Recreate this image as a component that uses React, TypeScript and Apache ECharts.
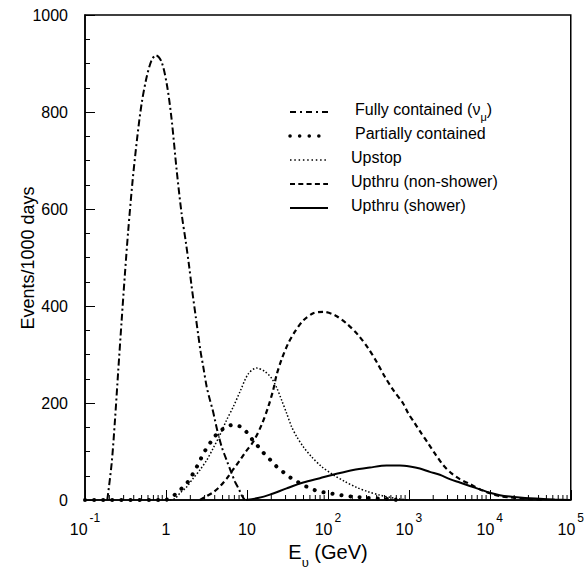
import React, { useEffect, useRef } from 'react';
import * as echarts from 'echarts';

// Fully contained (nu_mu)
const fcE = [0.1885, 0.2136, 0.2346, 0.2577, 0.2838, 0.3118, 0.3424, 0.3881, 0.4422, 0.5012, 0.5776, 0.666, 0.7523, 0.885, 1.037, 1.176, 1.356, 1.562, 1.766, 1.94, 2.076, 2.346, 2.505, 2.682, 2.887, 3.181, 3.493, 3.772, 4.027, 4.299, 4.872, 5.616, 6.474, 7.111, 8.034, 8.602, 9.448];
const fcV = [0, 76, 165, 268, 371, 468, 557, 660, 748, 818, 872, 907, 917, 903, 852, 784, 680, 590, 530, 480, 440, 375, 340, 305, 275, 234, 206, 186, 165, 144, 110, 82, 55, 38, 21, 10, 0];

// Partially contained
const pcE = [0.1, 0.972, 1.12, 1.356, 1.635, 1.94, 2.217, 2.505, 2.806, 3.181, 3.667, 4.299, 5.351, 6.773, 8.602, 10.38, 11.96, 14.19, 16.68, 20.18, 23.93, 29.45, 36.67, 46.03, 57.14, 72.53, 94.48, 122, 157.6, 201.8, 260.6, 330, 438.5, 550.5, 711.1];
const pcV = [0, 0, 4, 14, 27, 41, 58, 74, 91, 107, 122, 137, 149, 155, 150, 136, 122, 108, 94, 80, 67, 55, 43, 34, 26, 19, 15, 12, 9, 7, 5.5, 4, 3, 2, 0];

// Upstop
const upE = [1.12, 1.292, 1.489, 1.802, 2.173, 2.63, 3.181, 3.837, 4.642, 5.616, 6.773, 8.199, 10.38, 13.18, 16.68, 20.18, 23.26, 26.82, 30.92, 35.64, 41.09, 49.56, 62.92, 83.58, 116.3, 162.2, 226.1, 314.5, 438.5, 582.9, 774.3, 1029];
const upV = [0, 3, 14, 27, 45, 62, 82, 107, 134, 165, 192, 223, 260, 272, 265, 251, 232, 206, 179, 151, 131, 110, 89, 69, 52, 38, 26, 17, 10, 5.5, 2, 0];

// Upthru (non-shower)
const nsE = [2.63, 3.181, 3.837, 4.642, 5.616, 6.773, 8.199, 9.72, 11.96, 15.19, 18.32, 21.12, 23.26, 26.82, 32.36, 39.14, 49.56, 65.83, 87.5, 122, 170.2, 236.7, 314.5, 399.3, 505.6, 640, 850.5, 980.3, 1186, 1435, 1731, 2094, 2652, 3367, 4262, 5663, 7523, 10000, 13290, 17660, 23460, 31180, 47750];
const nsV = [0, 8, 16, 28, 44, 63, 82, 100, 120, 155, 192, 227, 258, 290, 323, 347, 370, 385, 388, 381, 364, 340, 313, 285, 254, 227, 199, 179, 158, 137, 117, 96, 72, 55, 43, 33, 22, 14, 8, 5.5, 3.5, 2, 0];

// Upthru (shower)
const shE = [9.72, 13.67, 19.23, 30.92, 49.56, 79.64, 128.1, 205.3, 330, 530.5, 774.3, 1029, 1367, 1816, 2413, 3208, 4262, 5663, 7523, 10000, 13290, 17660, 23460, 31180, 41430, 63480, 97200];
const shV = [0, 4, 11, 24, 36, 45, 54, 62, 67, 71, 71, 69, 65, 58, 52, 43, 36, 29, 22, 15, 10, 7, 5, 3.5, 2.6, 1, 0];

const yTicks = [0, 200, 400, 600, 800, 1000];
const xDecades = [0.1, 1, 10, 100, 1000, 10000];
const minorMultipliers = [2, 3, 4, 5, 6, 7, 8, 9];

const legendLabels = ['Fully contained (ν', 'Partially contained', 'Upstop', 'Upthru (non-shower)', 'Upthru (shower)'];

const FONT = '"Liberation Sans", Arial, Helvetica, sans-serif';

export default function App() {
  const ref = useRef<HTMLDivElement>(null);
  useEffect(() => {
    if (!ref.current) return;
    const chart = echarts.init(ref.current, null, { renderer: 'svg' });
    const pairs = (xs: number[], ys: number[]) => xs.map((x, i) => [x, ys[i]]);
    const minorTicks: number[] = [];
    xDecades.forEach((d) => minorMultipliers.forEach((m) => minorTicks.push(+(d * m).toPrecision(6))));

    const styles: any[] = [
      { width: 2, type: [7, 3, 2, 3] },
      { width: 4, type: [0.1, 9], cap: 'round' },
      { width: 1.5, type: [1.5, 2] },
      { width: 2.2, type: [5, 3.5] },
      { width: 2, type: 'solid' },
    ];
    const xs = [fcE, pcE, upE, nsE, shE];
    const ys = [fcV, pcV, upV, nsV, shV];

    const series: any[] = xs.map((xArr, i) => ({
      name: legendLabels[i],
      type: 'line',
      data: pairs(xArr, ys[i]),
      showSymbol: false,
      symbol: 'none',
      smooth: 0.3,
      lineStyle: { color: '#000', ...styles[i] },
      z: 3,
    }));
    series.push({
      type: 'custom',
      silent: true,
      clip: false,
      z: 5,
      data: minorTicks.map((v) => [v, 0]),
      renderItem: (_p: any, api: any) => {
        const p = api.coord([api.value(0), 0]);
        return {
          type: 'line',
          shape: { x1: p[0], y1: p[1], x2: p[0], y2: p[1] - 5 },
          style: { stroke: '#000', lineWidth: 1 },
        };
      },
    });

    const legendY = [112, 136, 160, 184, 208];
    const legendTextX = [355, 355, 351, 351, 351];
    const legendLineStyles = [
      { lineWidth: 2, lineDash: [6, 4, 2, 4] },
      { lineWidth: 3.5, lineDash: [0.1, 9.5], lineCap: 'round' },
      { lineWidth: 1.5, lineDash: [1.5, 2.8] },
      { lineWidth: 2, lineDash: [5, 3.3] },
      { lineWidth: 2 },
    ];
    const graphic: any[] = [];
    legendY.forEach((y, i) => {
      graphic.push({
        type: 'line',
        shape: { x1: 290, y1: y, x2: 328, y2: y },
        style: { stroke: '#000', fill: null, ...legendLineStyles[i] },
      });
      const text = i === 0 ? `{a|${legendLabels[0]}}{u|μ}{a|)}` : `{a|${legendLabels[i]}}`;
      graphic.push({
        type: 'text',
        x: legendTextX[i],
        y,
        style: {
          text,
          fill: '#000',
          verticalAlign: 'middle',
          align: 'left',
          rich: {
            a: { fontSize: 16, fontFamily: FONT, fill: '#000', verticalAlign: 'top', padding: [0, 0, 5, 0] },
            u: { fontSize: 11, fontFamily: FONT, fill: '#000', verticalAlign: 'bottom' },
          },
        },
      });
    });
    graphic.push({
      type: 'text',
      x: 28,
      y: 258,
      rotation: Math.PI / 2,
      style: { text: 'Events/1000 days', fontSize: 18, fontFamily: FONT, fill: '#000', align: 'center', verticalAlign: 'middle' },
    });
    graphic.push({
      type: 'text',
      x: 328,
      y: 555,
      style: {
        text: '{a|E}{u|υ}{a| (GeV)}',
        fill: '#000',
        align: 'center',
        verticalAlign: 'middle',
        rich: {
          a: { fontSize: 20, fontFamily: FONT, fill: '#000', verticalAlign: 'top', padding: [0, 0, 7, 0] },
          u: { fontSize: 13, fontFamily: FONT, fill: '#000', verticalAlign: 'bottom' },
        },
      },
    });

    chart.setOption({
      animation: false,
      backgroundColor: '#fff',
      grid: { left: 85, right: 16, top: 15, bottom: 72, show: true, borderColor: '#000', borderWidth: 1.5, backgroundColor: 'transparent' },
      xAxis: {
        type: 'log',
        logBase: 10,
        min: 0.1,
        max: 100000,
        splitNumber: 6,
        axisLine: { show: true, onZero: false, lineStyle: { color: '#000', width: 1.5 } },
        axisTick: { show: true, inside: true, length: 10, lineStyle: { color: '#000', width: 1 } },
        splitLine: { show: false },
        axisLabel: {
          margin: 12,
          showMinLabel: true,
          showMaxLabel: true,
          hideOverlap: false,
          formatter: (v: number) => {
            const e = Math.round(Math.log10(v));
            if (e === 0) return '{b|1}';
            if (e === 1) return '{b|10}';
            return `{b|10}{s|${e}}`;
          },
          rich: {
            b: { fontSize: 16, fontFamily: FONT, color: '#000', padding: [9, 0, 0, 0], verticalAlign: 'bottom' },
            s: { fontSize: 12, fontFamily: FONT, color: '#000', verticalAlign: 'top', padding: [0, 0, 0, 2] },
          },
        },
      },
      yAxis: {
        type: 'value',
        min: yTicks[0],
        max: yTicks[yTicks.length - 1],
        interval: yTicks[1] - yTicks[0],
        axisLine: { show: true, lineStyle: { color: '#000', width: 1.5 } },
        axisTick: { show: true, inside: true, length: 10, lineStyle: { color: '#000', width: 1 } },
        minorTick: { show: true, splitNumber: 4, length: 5, lineStyle: { color: '#000', width: 1 } },
        splitLine: { show: false },
        axisLabel: { margin: 17, fontSize: 16, fontFamily: FONT, color: '#000', formatter: (v: number) => String(v) },
      },
      series,
      graphic,
    });
    return () => chart.dispose();
  }, []);
  return <div ref={ref} style={{ position: 'absolute', left: 0, top: 0, width: 587, height: 572, background: '#fff' }} />;
}
